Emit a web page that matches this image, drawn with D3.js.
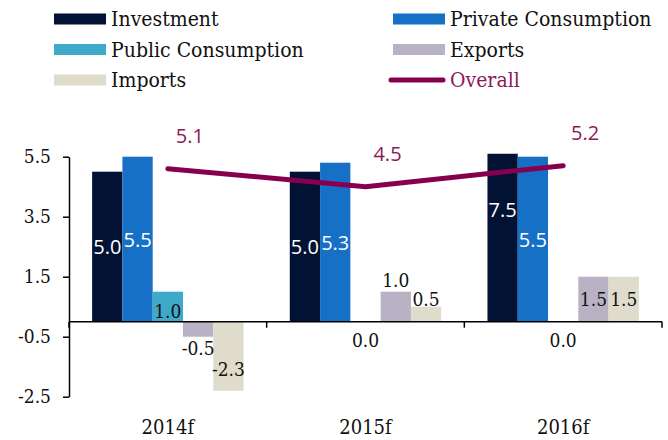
<!DOCTYPE html>
<html><head><meta charset="utf-8">
<script src="https://cdn.jsdelivr.net/npm/d3@7"></script>
<style>
body{margin:0;background:#fff;}
svg{display:block;}
.serif{font-family:"DejaVu Serif Condensed","DejaVu Serif",serif;}
.sans{font-family:"Open Sans","Noto Sans",sans-serif;}
</style></head>
<body><svg id="c" width="668" height="440"></svg>
<script>
const categories = ["2014f","2015f","2016f"];
const seriesNames = ["Investment","Private Consumption","Public Consumption","Exports","Imports"];
const investment = [5.0, 5.0, 7.5];
const privateConsumption = [5.5, 5.3, 5.5];
const publicConsumption = [1.0, 0.0, 0.0];
const exportsVals = [-0.5, 1.0, 1.5];
const importsVals = [-2.3, 0.5, 1.5];
const overall = [5.1, 4.5, 5.2];
const yTicks = [-2.5, -0.5, 1.5, 3.5, 5.5];

const colors = ["#021235","#1570c6","#3fa9c9","#b9b1c4","#e0dccb"];
const lineColor = "#870050";
const seriesVals = [investment, privateConsumption, publicConsumption, exportsVals, importsVals];

const svg = d3.select("#c");
const left = 69, right = 662;
const y = d3.scaleLinear().domain([-2.5, 5.6]).range([396.7, 153.7]);
const x = d3.scaleBand().domain(categories).range([left, right]).paddingInner(0.234).paddingOuter(0.117);
const xs = d3.scaleBand().domain(seriesNames).range([0, x.bandwidth()]);

svg.append("defs").append("clipPath").attr("id","plot")
  .append("rect").attr("x", left).attr("y", y(5.6)).attr("width", right-left).attr("height", y(-2.5)-y(5.6));

const data = [];
seriesNames.forEach((s, si) => categories.forEach((c, ci) => data.push({s, si, c, ci, v: seriesVals[si][ci]})));

svg.append("g").attr("clip-path","url(#plot)").selectAll("rect").data(data.filter(d=>d.v!==0)).join("rect")
  .attr("x", d => x(d.c) + xs(d.s))
  .attr("width", xs.bandwidth())
  .attr("y", d => y(Math.max(0, d.v)))
  .attr("height", d => Math.abs(y(d.v) - y(0)))
  .attr("fill", d => colors[d.si]);

const fmt = v => d3.format(".1f")(v).replace("\u2212", "-");

// y axis
const yAx = y.copy().domain([-2.5, 5.5]).range([y(-2.5), y(5.5)]);
const ga = svg.append("g").attr("transform", `translate(${left},0)`)
  .call(d3.axisLeft(yAx).tickValues(yTicks).tickFormat(fmt).tickSize(6).tickSizeOuter(0).tickPadding(12));
ga.selectAll("path,line").attr("stroke","#000").attr("stroke-width",1.5);
ga.selectAll("text").attr("class","serif").attr("font-size",19).attr("fill","#111");
ga.attr("font-family",null).attr("font-size",null);

// x axis
const gx = svg.append("g");
gx.append("line").attr("x1", left).attr("x2", right).attr("y1", y(0)).attr("y2", y(0)).attr("stroke","#000").attr("stroke-width",1.5);
gx.selectAll("line.t").data(d3.range(categories.length + 1)).join("line").attr("class","t")
  .attr("x1", i => left + i * x.step()).attr("x2", i => left + i * x.step())
  .attr("y1", y(0)).attr("y2", y(0) + 6).attr("stroke","#000").attr("stroke-width",1.5);
gx.selectAll("text").data(categories).join("text").attr("class","serif")
  .attr("x", c => x(c) + x.bandwidth()/2).attr("y", 434).attr("text-anchor","middle")
  .attr("font-size",20).attr("fill","#111").text(c => c);

// bar labels
function labelPos(d) {
  const cx = x(d.c) + xs(d.s) + xs.bandwidth()/2;
  let cy, white = d.si < 2;
  if (d.si < 2) cy = y(d.v/2);
  else if (d.v === 0) cy = y(0) + 18;
  else if (d.si === 2) cy = y(d.v/2) + 4;
  else if (d.v < 0 && d.si === 3) cy = y(d.v) + 11;
  else if (d.v < 0) cy = y(d.v/2) + 13;
  else if (d.v <= 1.0) cy = y(d.v) - (d.si === 3 ? 12 : 8);
  else cy = y(d.v/2);
  return {cx, cy, white};
}
svg.selectAll("text.bl").data(data).join("text").attr("class", d => d.si < 2 ? "bl sans" : "bl serif")
  .each(function(d){ const p = labelPos(d); d3.select(this).attr("x", p.cx).attr("y", p.cy)
     .attr("fill", p.white ? "#fff" : "#111"); })
  .attr("text-anchor","middle").attr("dominant-baseline","central")
  .attr("font-size", d => d.si < 2 ? 20 : 19)
  .text(d => fmt(d.v));

// overall line
const cxCat = c => x(c) + x.bandwidth()/2;
svg.append("path").datum(categories.map((c,i)=>[cxCat(c), y(overall[i])]))
  .attr("d", d3.line()).attr("fill","none").attr("stroke", lineColor).attr("stroke-width",5)
  .attr("stroke-linecap","round").attr("stroke-linejoin","miter");
svg.selectAll("text.ol").data(categories).join("text").attr("class","ol sans")
  .attr("x", (c) => cxCat(c) + 22).attr("y", (c,i) => y(overall[i]) - 33)
  .attr("text-anchor","middle").attr("dominant-baseline","central")
  .attr("font-size",20).attr("fill","#8b1a5c").text((c,i)=>fmt(overall[i]));

// legend
const legend = [
  {name:"Investment", col:0, row:0, color:colors[0]},
  {name:"Private Consumption", col:1, row:0, color:colors[1]},
  {name:"Public Consumption", col:0, row:1, color:colors[2]},
  {name:"Exports", col:1, row:1, color:colors[3]},
  {name:"Imports", col:0, row:2, color:colors[4]},
  {name:"Overall", col:1, row:2, color:lineColor, line:true}
];
const lg = svg.append("g");
legend.forEach(l => {
  const sx = l.col === 0 ? 54 : 393, tx = l.col === 0 ? 111 : 450, cy = 19 + l.row * 30.5;
  if (l.line) lg.append("line").attr("x1", 391).attr("x2", 443).attr("y1", cy).attr("y2", cy)
      .attr("stroke", l.color).attr("stroke-width", 5).attr("stroke-linecap","round");
  else lg.append("rect").attr("x", sx).attr("y", cy - 5.5).attr("width", 52).attr("height", 11).attr("fill", l.color);
  lg.append("text").attr("class","serif").attr("x", tx).attr("y", cy).attr("dominant-baseline","central")
    .attr("font-size",21).attr("fill", l.line ? "#8b1a5c" : "#111").text(l.name);
});
</script></body></html>
